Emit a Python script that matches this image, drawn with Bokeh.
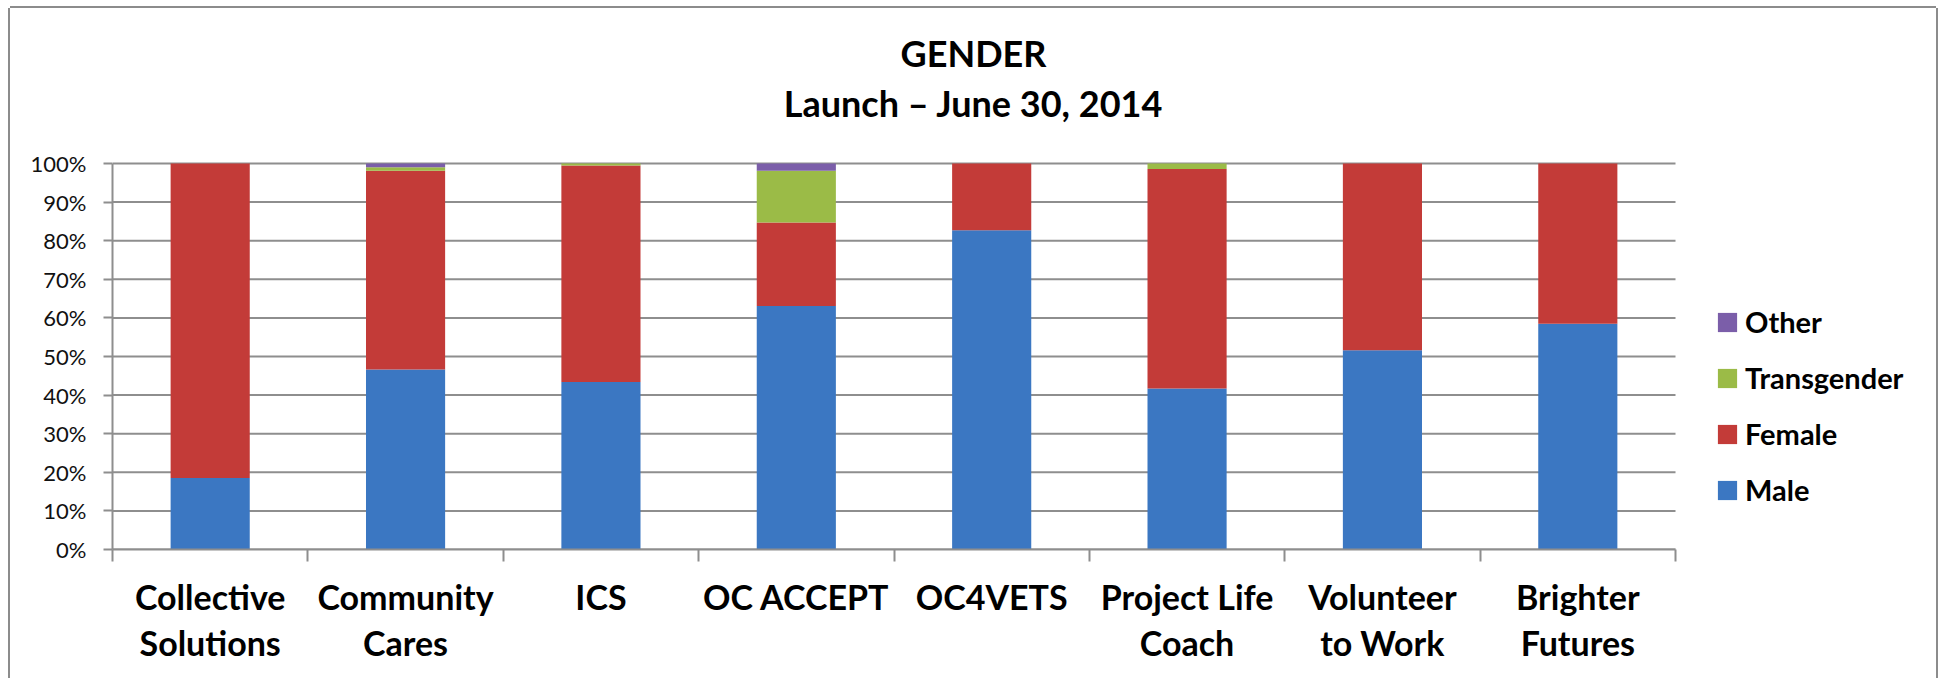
from bokeh.plotting import figure
from bokeh.models import (Range1d, FixedTicker, PrintfTickFormatter, Legend,
                          LegendItem, Label, ColumnDataSource)
from bokeh.embed import file_html
from bokeh.resources import INLINE

# ---------------- data ----------------
categories = ["Collective\nSolutions", "Community\nCares", "ICS", "OC ACCEPT",
              "OC4VETS", "Project Life\nCoach", "Volunteer\nto Work", "Brighter\nFutures"]
series = ["Male", "Female", "Transgender", "Other"]
male = [18.5, 46.6, 43.4, 63.1, 82.7, 41.7, 51.6, 58.5]
female = [81.5, 51.5, 56.1, 21.6, 17.3, 56.9, 48.4, 41.5]
transgender = [0.0, 0.9, 0.5, 13.4, 0.0, 1.4, 0.0, 0.0]
other = [0.0, 1.0, 0.0, 1.9, 0.0, 0.0, 0.0, 0.0]
y_ticks = [0, 10, 20, 30, 40, 50, 60, 70, 80, 90, 100]
title_main = "GENDER"
title_sub = "Launch \u2013 June 30, 2014"

colors = ["#3B77C2", "#C33B38", "#9BBB47", "#7B5EA9"]
GRID = "#8e8e8e"
FONT = "Lato"

# ---------------- layout constants ----------------
n = len(categories)
CAT_AREA_PX = 1563          # pixel width taken by the categories
PCT_AREA_PX = 386           # pixel height of 0..100 %
FRAME_W = 1812              # frame also holds the legend on the right
FRAME_H = 531               # frame also holds the title on top
x_end = n * FRAME_W / CAT_AREA_PX
y_end = 100 * FRAME_H / PCT_AREA_PX
px_x = n / CAT_AREA_PX      # data units per pixel
px_y = 100 / PCT_AREA_PX

xpos = [i + 0.5 for i in range(n)]
source = ColumnDataSource(dict(x=xpos, Male=male, Female=female,
                               Transgender=transgender, Other=other))

p = figure(frame_width=FRAME_W, frame_height=FRAME_H,
           x_range=Range1d(0, x_end), y_range=Range1d(0, y_end),
           output_backend="svg", toolbar_location=None,
           min_border_left=102, min_border_right=12,
           min_border_top=10, min_border_bottom=129)
p.margin = (8, 0, 0, 10)
p.outline_line_color = None
p.background_fill_color = "white"
p.border_fill_color = "white"

# horizontal gridlines limited to the category area
p.xgrid.visible = False
p.ygrid.visible = False
p.segment(x0=0, x1=n, y0=y_ticks, y1=y_ticks, line_color=GRID, line_width=2)

renderers = p.vbar_stack(series, x="x", width=0.405, source=source,
                         fill_color=colors, line_color=None)

# x axis: labels at centres, ticks between categories
xa = p.xaxis[0]
xa.bounds = (0, n)
xa.ticker = FixedTicker(ticks=xpos, minor_ticks=list(range(n + 1)))
xa.major_label_overrides = {x: c for x, c in zip(xpos, categories)}
xa.major_tick_out = 0
xa.major_tick_in = 0
xa.minor_tick_out = 12
xa.minor_tick_in = 0
xa.minor_tick_line_color = GRID
xa.minor_tick_line_width = 2
xa.axis_line_color = GRID
xa.axis_line_width = 2
xa.major_label_text_font = FONT
xa.major_label_text_font_style = "bold"
xa.major_label_text_font_size = "34px"
xa.major_label_text_color = "black"
xa.major_label_text_line_height = 1.13
xa.major_label_standoff = 14

ya = p.yaxis[0]
ya.bounds = (0, 100)
ya.ticker = FixedTicker(ticks=y_ticks)
ya.formatter = PrintfTickFormatter(format="%d%%")
ya.major_tick_out = 9
ya.major_tick_in = 0
ya.major_tick_line_color = GRID
ya.major_tick_line_width = 2
ya.minor_tick_line_color = None
ya.axis_line_color = GRID
ya.axis_line_width = 2
ya.major_label_text_font = FONT
ya.major_label_text_font_size = "22px"
ya.major_label_text_color = "#111111"
ya.major_label_standoff = 17

# title: two centred lines over the whole chart
TITLE_CX = 861 * px_x
for txt, base_px in zip([title_main, title_sub], [497, 447]):
    p.add_layout(Label(x=TITLE_CX, y=base_px * px_y, text=txt,
                       text_align="center", text_baseline="alphabetic",
                       text_font=FONT, text_font_style="bold",
                       text_font_size="36px", text_color="black"))

legend = Legend(items=[LegendItem(label=s, renderers=[r])
                       for s, r in reversed(list(zip(series, renderers)))],
                location=(1603, 42), orientation="vertical",
                glyph_width=24, glyph_height=24, label_standoff=6,
                spacing=21, padding=0, margin=0,
                border_line_color=None, background_fill_alpha=0,
                label_text_font=FONT, label_text_font_style="bold",
                label_text_font_size="29px", label_text_color="black")
p.add_layout(legend, "center")

p.styles = {"box-shadow": "-2px 0 0 #8c8c8c, 0 -2px 0 #8c8c8c, 2px 0 0 #8c8c8c"}

open("out.html", "w").write(file_html(p, INLINE))
